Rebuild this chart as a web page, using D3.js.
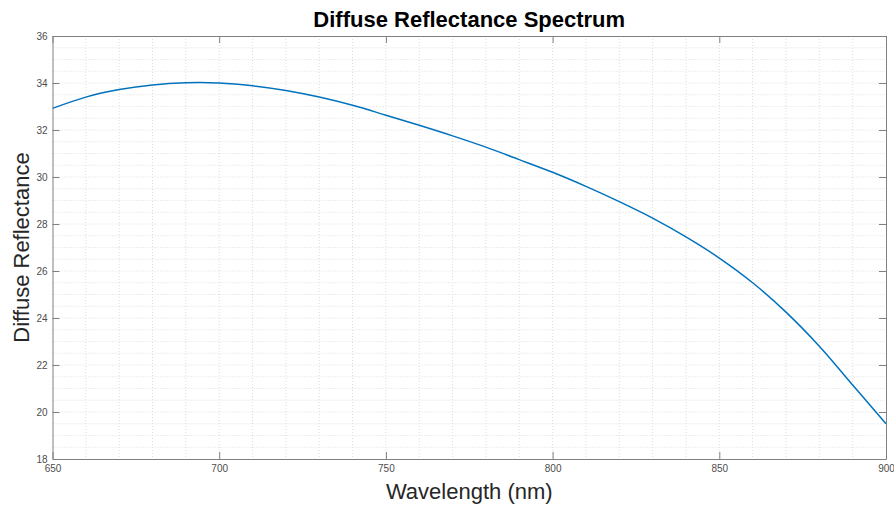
<!DOCTYPE html>
<html><head><meta charset="utf-8">
<script src="https://cdn.jsdelivr.net/npm/d3@7"></script>
<style>body{margin:0;background:#fff}svg{display:block}text{font-family:"Liberation Sans",Arial,Helvetica,sans-serif}</style>
</head><body><svg id="c" width="894" height="505"></svg>
<script>
const wavelengths = [650,660,670,680,690,700,710,720,730,740,750,760,770,780,790,800,810,820,830,840,850,860,870,880,890,900];
const reflectance = [32.92,33.40,33.72,33.92,34.01,34.00,33.88,33.68,33.40,33.05,32.63,32.20,31.75,31.27,30.74,30.20,29.60,28.95,28.25,27.45,26.55,25.50,24.25,22.80,21.15,19.50];
const xTicks = [650,700,750,800,850,900];
const yTicks = [18,20,22,24,26,28,30,32,34,36];
const titleText = "Diffuse Reflectance Spectrum";
const xLabel = "Wavelength (nm)";
const yLabel = "Diffuse Reflectance";

const svg = d3.select("#c");
const L=52.5, R=886, T=36, B=459;
const x = d3.scaleLinear().domain([650,900]).range([L,R]);
const y = d3.scaleLinear().domain([18,36]).range([B,T]);

// minor grid
const g = svg.append("g");
const xMinor = d3.range(660,900,10);
const yMinor = d3.range(18.5,36,0.5);
g.selectAll("line.vx").data(xMinor).enter().append("line")
  .attr("x1",d=>x(d)).attr("x2",d=>x(d)).attr("y1",T).attr("y2",B)
  .attr("stroke","#dcdcdc").attr("stroke-width",1).attr("stroke-dasharray","1,2");
g.selectAll("line.hy").data(yMinor).enter().append("line")
  .attr("y1",d=>y(d)).attr("y2",d=>y(d)).attr("x1",L).attr("x2",R)
  .attr("stroke","#dcdcdc").attr("stroke-width",1).attr("stroke-dasharray","1,2");

// curve
const line = d3.line().x((d,i)=>x(wavelengths[i])).y(d=>y(d)).curve(d3.curveCatmullRom);
svg.append("path").datum(reflectance).attr("d",line)
  .attr("fill","none").attr("stroke","#0072BD").attr("stroke-width",1.5);

// axes (ticks inward)
const axCol="#808080";
const tl=7;
const xb = svg.append("g").attr("transform",`translate(0,${B})`)
  .call(d3.axisBottom(x).tickValues(xTicks).tickSizeInner(-tl).tickSizeOuter(0).tickPadding(6));
const xt = svg.append("g").attr("transform",`translate(0,${T})`)
  .call(d3.axisTop(x).tickValues(xTicks).tickSizeInner(-tl).tickSizeOuter(0).tickFormat(""));
const yl = svg.append("g").attr("transform",`translate(${L},0)`)
  .call(d3.axisLeft(y).tickValues(yTicks).tickSizeInner(-tl).tickSizeOuter(0).tickPadding(5));
const yr = svg.append("g").attr("transform",`translate(${R},0)`)
  .call(d3.axisRight(y).tickValues(yTicks).tickSizeInner(-tl).tickSizeOuter(0).tickFormat(""));
[xb,xt,yl,yr].forEach(a=>{
  a.select(".domain").attr("stroke",axCol).attr("stroke-width",1);
  a.selectAll(".tick line").attr("stroke",axCol);
  a.selectAll(".tick text").attr("fill","#4d4d4d").style("font-size","10px").style("font-family","'Liberation Sans',Arial,sans-serif");
});

svg.append("text").attr("x",(L+R)/2).attr("y",27).attr("text-anchor","middle")
  .style("font-size","22px").style("font-weight","bold").attr("fill","#000").text(titleText);
svg.append("text").attr("x",(L+R)/2).attr("y",499).attr("text-anchor","middle")
  .style("font-size","22px").attr("fill","#262626").text(xLabel);
svg.append("text").attr("transform",`translate(29,${(T+B)/2}) rotate(-90)`).attr("text-anchor","middle")
  .style("font-size","22px").attr("fill","#262626").text(yLabel);
</script></body></html>
